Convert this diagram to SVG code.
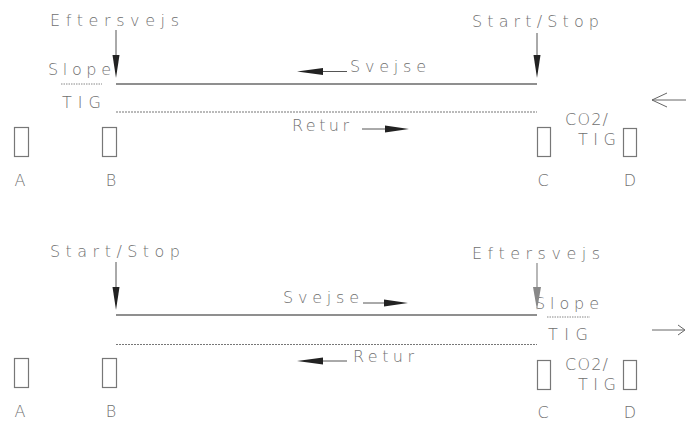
<svg xmlns="http://www.w3.org/2000/svg" width="686" height="421" viewBox="0 0 686 421">
<style>
text{font-family:"DejaVu Sans","Liberation Sans",sans-serif;font-size:16px;font-weight:200;fill:#707070}
.box{fill:#fff;stroke:#777;stroke-width:1.2}
.solid{stroke:#6a6a6a;stroke-width:1.6;fill:none}
.dash{stroke:#777;stroke-width:1.2;stroke-dasharray:2 1;fill:none}
.dot{stroke:#888;stroke-width:1;stroke-dasharray:1.5 1;fill:none}
.ln{stroke:#555;stroke-width:1;fill:none}
.lnl{stroke:#888;stroke-width:1.2;fill:none}
.head{fill:#222}
.headl{fill:#888}
.open{stroke:#666;stroke-width:1;fill:none}
</style>
<rect width="686" height="421" fill="#fff"/>

<!-- Top scenario -->
<g id="top-labels">
<text x="50" y="26" textLength="129" lengthAdjust="spacing">Eftersvejs</text>
<text x="472" y="27" textLength="127" lengthAdjust="spacing">Start/Stop</text>
<text x="48" y="75" textLength="63" lengthAdjust="spacing">Slope</text>
<text x="62" y="108" textLength="39" lengthAdjust="spacing">TIG</text>
<text x="350" y="72" textLength="76" lengthAdjust="spacing">Svejse</text>
<text x="292" y="131" textLength="57" lengthAdjust="spacing">Retur</text>
<text x="565" y="125" textLength="43" lengthAdjust="spacing">CO2/</text>
<text x="578" y="145" textLength="38" lengthAdjust="spacing">TIG</text>
</g>
<g id="top-A"><rect class="box" x="14.5" y="127.5" width="14" height="29"/><text x="20" y="186" text-anchor="middle">A</text></g>
<g id="top-B"><rect class="box" x="102.5" y="127.5" width="14" height="29"/><text x="111" y="186" text-anchor="middle">B</text></g>
<g id="top-C"><rect class="box" x="537.5" y="127.5" width="13" height="29"/><text x="543" y="186" text-anchor="middle">C</text></g>
<g id="top-D"><rect class="box" x="623.5" y="128.5" width="13" height="28"/><text x="630" y="186" text-anchor="middle">D</text></g>

<!-- Bottom scenario -->
<g id="bottom-labels">
<text x="50" y="257" textLength="130" lengthAdjust="spacing">Start/Stop</text>
<text x="472" y="259" textLength="128" lengthAdjust="spacing">Eftersvejs</text>
<text x="535" y="309" textLength="64" lengthAdjust="spacing">Slope</text>
<text x="548" y="340" textLength="40" lengthAdjust="spacing">TIG</text>
<text x="283" y="303" textLength="76" lengthAdjust="spacing">Svejse</text>
<text x="353" y="362" textLength="61" lengthAdjust="spacing">Retur</text>
<text x="565" y="370" textLength="43" lengthAdjust="spacing">CO2/</text>
<text x="578" y="390" textLength="38" lengthAdjust="spacing">TIG</text>
</g>
<g id="bottom-A"><rect class="box" x="14.5" y="358.5" width="14" height="29"/><text x="20" y="417" text-anchor="middle">A</text></g>
<g id="bottom-B"><rect class="box" x="102.5" y="358.5" width="14" height="29"/><text x="111" y="417" text-anchor="middle">B</text></g>
<g id="bottom-C"><rect class="box" x="537.5" y="360.5" width="13" height="29"/><text x="543" y="418" text-anchor="middle">C</text></g>
<g id="bottom-D"><rect class="box" x="623.5" y="360.5" width="13" height="29"/><text x="630" y="418" text-anchor="middle">D</text></g>

<g id="connectors">
<!-- top lines -->
<line class="solid" x1="116" y1="84" x2="537" y2="84"/>
<line class="dash" x1="116" y1="112" x2="537" y2="112"/>
<line class="dot" x1="61" y1="84" x2="102" y2="84"/>
<!-- top vertical arrows -->
<line class="ln" x1="116" y1="30" x2="116" y2="60"/>
<polygon class="head" points="112.5,55 119.5,55 116,78"/>
<line class="ln" x1="537" y1="33" x2="537" y2="60"/>
<polygon class="head" points="533.5,55 540.5,55 537,78"/>
<!-- top horizontal arrows -->
<line class="ln" x1="347" y1="71.5" x2="315" y2="71.5"/>
<polygon class="head" points="297,71.5 323,68 323,75"/>
<line class="ln" x1="362" y1="129" x2="392" y2="129"/>
<polygon class="head" points="409,129 385,125.5 385,132.5"/>
<!-- top open arrow -->
<line class="open" x1="652" y1="100" x2="686" y2="100"/>
<polyline class="open" points="667,93 652,100 667,107"/>

<!-- bottom lines -->
<line class="solid" x1="116" y1="315" x2="537" y2="315"/>
<line class="dash" x1="116" y1="344.5" x2="537" y2="344.5"/>
<line class="dot" x1="547" y1="317" x2="590" y2="317"/>
<!-- bottom vertical arrows -->
<line class="ln" x1="116" y1="262" x2="116" y2="292"/>
<polygon class="head" points="112.5,287 119.5,287 116,310"/>
<line class="lnl" x1="537" y1="263" x2="537" y2="292"/>
<polygon class="headl" points="533,287 541,287 537,310"/>
<!-- bottom horizontal arrows -->
<line class="ln" x1="363" y1="303" x2="392" y2="303"/>
<polygon class="head" points="408,303 384,299.5 384,306.5"/>
<line class="ln" x1="347" y1="361" x2="315" y2="361"/>
<polygon class="head" points="297,361 323,357.5 323,364.5"/>
<!-- bottom open arrow -->
<line class="open" x1="652" y1="330" x2="684" y2="330"/>
<polyline class="open" points="678,325 685,330 678,335"/>
</g>
</svg>
